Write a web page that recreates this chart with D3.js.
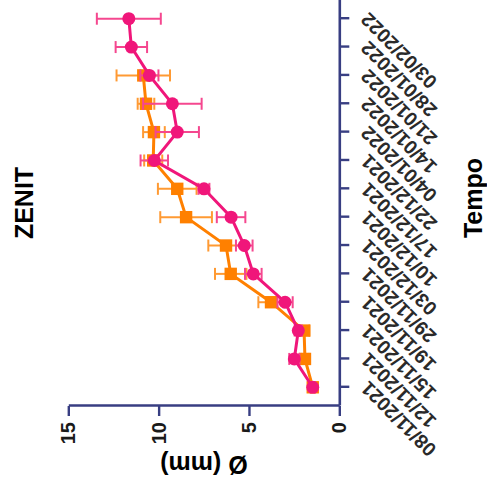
<!DOCTYPE html>
<html><head><meta charset="utf-8">
<script src="https://cdn.jsdelivr.net/npm/d3@7"></script>
<style>body{margin:0;background:#fff}svg{display:block}</style>
</head><body><svg id="c" width="487" height="493"></svg>
<script>
const dates = ["08/11/2021","12/11/2021","15/11/2021","19/11/2021","29/11/2021","03/12/2021","10/12/2021","17/12/2021","22/12/2021","04/01/2022","14/01/2022","21/01/2022","28/01/2022","03/02/2022"];
const pinkMean = [1.47,2.49,2.27,3.0,4.76,5.26,5.99,7.49,10.24,8.97,9.24,10.51,11.51,11.65];
const pinkErr  = [0.12,0.28,0.2,0.42,0.46,0.46,0.79,0.3,0.76,1.2,1.62,0.5,0.87,1.77];
const orangeMean = [1.47,1.90,1.95,3.78,6.01,6.27,8.48,8.97,10.3,10.26,10.70,10.85];
const orangeErr  = [0.1,0.2,0.3,0.7,0.87,0.98,1.43,1.07,0.5,0.6,0.46,1.48];
const yTicks = [0,5,10,15];
const title = "ZENIT", xTitle = "Tempo", yTitle = "Ø (mm)";

const AX = "#383e82", PINK = "#f0167a", ORANGE = "#ff8000";
const svg = d3.select("#c");
// chart drawn in its natural frame, then turned a quarter turn counter-clockwise
const g = svg.append("g").attr("transform","translate(0,493) rotate(-90)");

const x = d3.scalePoint().domain(dates).range([87,493]).padding(0.66);
const y = d3.scaleLinear().domain([0,15]).range([339.3,68.3]);

// axes
const ya = g.append("g").attr("transform","translate(87,0)")
  .call(d3.axisLeft(y).tickValues(yTicks).tickSize(10).tickSizeOuter(0).tickPadding(6));
const xa = g.append("g").attr("transform","translate(0,339.3)")
  .call(d3.axisBottom(x).tickSize(10).tickSizeOuter(0));
[ya,xa].forEach(a=>{
  a.selectAll("path.domain").attr("stroke",AX).attr("stroke-width",2.6);
  a.selectAll(".tick line").attr("stroke",AX).attr("stroke-width",2.4);
});
ya.selectAll("text").attr("font-family","Liberation Sans, Arial, sans-serif")
  .attr("font-weight","bold").attr("font-size",20).attr("fill","#1a1a1a");
xa.selectAll("text").attr("font-family","Liberation Sans, Arial, sans-serif")
  .attr("font-weight","bold").attr("font-size",19.5).attr("fill","#2a2a2a")
  .attr("text-anchor","end").attr("x",0).attr("y",0).attr("dy","0.35em")
  .attr("transform","translate(2,25) rotate(-45)");

// series
function series(mean, err, color, errColor, shape){
  const pts = mean.map((m,i)=>({d:dates[i], m, e:err[i]}));
  const eb = g.append("g").attr("stroke",errColor).attr("stroke-width",2);
  pts.forEach(p=>{
    const cx = x(p.d);
    eb.append("line").attr("x1",cx).attr("x2",cx).attr("y1",y(p.m-p.e)).attr("y2",y(p.m+p.e));
    [p.m-p.e,p.m+p.e].forEach(v=>eb.append("line").attr("x1",cx-6).attr("x2",cx+6).attr("y1",y(v)).attr("y2",y(v)));
  });
  g.append("path").datum(pts).attr("fill","none").attr("stroke",color).attr("stroke-width",3)
    .attr("d",d3.line().x(p=>x(p.d)).y(p=>y(p.m)));
  const mk = g.append("g").attr("fill",color);
  pts.forEach(p=>{
    if(shape==="circle") mk.append("circle").attr("cx",x(p.d)).attr("cy",y(p.m)).attr("r",6.5);
    else mk.append("rect").attr("x",x(p.d)-6.2).attr("y",y(p.m)-6.2).attr("width",12.4).attr("height",12.4);
  });
}
series(orangeMean, orangeErr, ORANGE, "#ff9a33", "square");
series(pinkMean, pinkErr, PINK, "#f5478f", "circle");

// titles
const tf = "Liberation Sans, Arial, sans-serif";
g.append("text").attr("x",290).attr("y",33).attr("text-anchor","middle")
  .attr("font-family",tf).attr("font-weight","bold").attr("font-size",25).text(title);
g.append("text").attr("x",295).attr("y",482).attr("text-anchor","middle")
  .attr("font-family",tf).attr("font-weight","bold").attr("font-size",25).text(xTitle);
g.append("text").attr("transform","translate(28,204) rotate(-90)").attr("dy","0.35em")
  .attr("text-anchor","middle").attr("font-family",tf).attr("font-weight","bold")
  .attr("font-size",25).text(yTitle);
</script></body></html>
